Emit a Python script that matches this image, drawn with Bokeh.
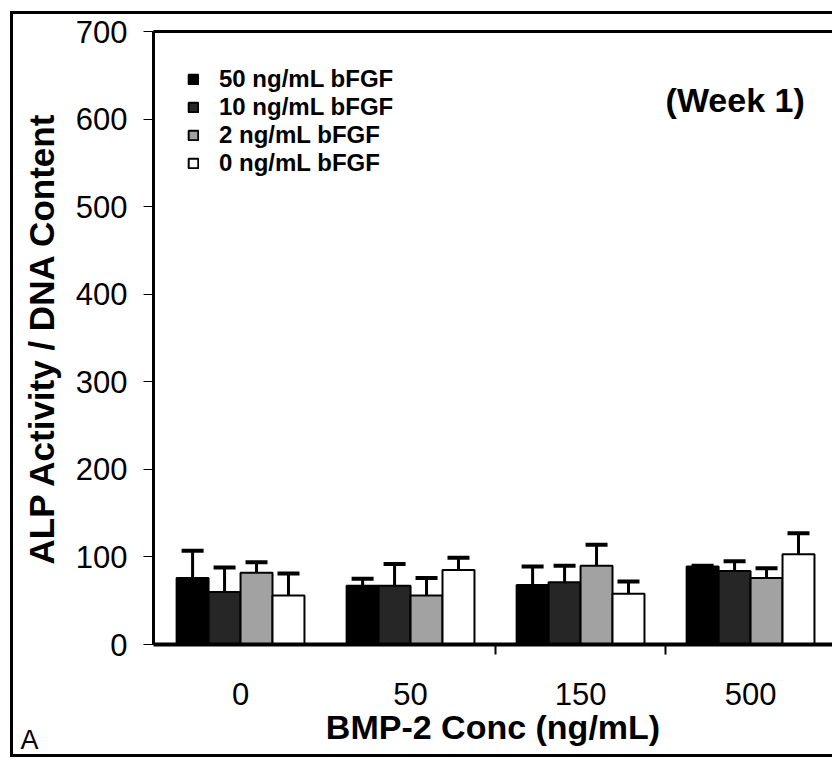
from bokeh.plotting import figure
from bokeh.models import (ColumnDataSource, Range1d, FixedTicker, Whisker, TeeHead,
                          Legend, LegendItem, Label, LinearAxis, Title, InlineStyleSheet)
from bokeh.embed import file_html
from bokeh.resources import INLINE

# ---- data ----
bmp2_conc = ["0", "50", "150", "500"]
series_names = ["50 ng/mL bFGF", "10 ng/mL bFGF", "2 ng/mL bFGF", "0 ng/mL bFGF"]
alp_bfgf50 = [76, 67, 68, 89]
err_bfgf50 = [31, 8, 21, 1]
alp_bfgf10 = [60, 67, 71, 84]
err_bfgf10 = [28, 25, 19, 11]
alp_bfgf2 = [82, 56, 90, 76]
err_bfgf2 = [12, 20, 24, 11]
alp_bfgf0 = [56, 85, 58, 103]
err_bfgf0 = [25, 14, 14, 24]
y_ticks = [0, 100, 200, 300, 400, 500, 600, 700]

values = [alp_bfgf50, alp_bfgf10, alp_bfgf2, alp_bfgf0]
errors = [err_bfgf50, err_bfgf10, err_bfgf2, err_bfgf0]
colors = ["#000000", "#262626", "#a2a2a2", "#ffffff"]
offsets = [-0.282, -0.094, 0.094, 0.282]
bar_w = 0.188
FONT = "Liberation Sans"

p = figure(width=832, height=760, output_backend="svg", toolbar_location=None,
           x_range=Range1d(-0.512, 3.482), y_range=Range1d(0, 700),
           min_border_left=153, min_border_right=0, min_border_top=31, min_border_bottom=116)
p.xgrid.visible = False
p.ygrid.visible = False
p.outline_line_color = None
p.background_fill_color = "white"
p.border_fill_alpha = 0

# outer panel frame (left, top, bottom edges) drawn on the page behind the canvas
p.stylesheets = [InlineStyleSheet(css="""
:host {
  background:
    linear-gradient(#000,#000) 10px 11px / 3px 746px no-repeat,
    linear-gradient(#000,#000) 10px 11px / 822px 3px no-repeat,
    linear-gradient(#000,#000) 10px 754px / 822px 3px no-repeat,
    #ffffff;
}
""")]

items = []
for k in range(4):
    xs = [i + offsets[k] for i in range(len(bmp2_conc))]
    src = ColumnDataSource(dict(x=xs, top=values[k],
                                upper=[v + e for v, e in zip(values[k], errors[k])]))
    r = p.vbar(x="x", top="top", width=bar_w, source=src, fill_color=colors[k],
               line_color="black", line_width=2)
    w = Whisker(base="x", upper="upper", lower="top", source=src,
                upper_head=TeeHead(size=22, line_width=4, line_color="black"),
                lower_head=None, line_width=3, line_color="black", level="overlay")
    p.add_layout(w)
    items.append(LegendItem(label=series_names[k], renderers=[r]))

# x axis
xa = p.xaxis[0]
xa.ticker = FixedTicker(ticks=[0, 1, 2, 3], minor_ticks=[1.5, 2.5])
xa.major_label_overrides = {i: c for i, c in enumerate(bmp2_conc)}
xa.major_tick_out = 0
xa.major_tick_in = 0
xa.minor_tick_out = 10
xa.minor_tick_in = 0
xa.minor_tick_line_width = 2
xa.minor_tick_line_color = "black"
xa.axis_line_width = 4
xa.axis_line_color = "black"
xa.major_label_standoff = 28
xa.major_label_text_font = FONT
xa.major_label_text_font_size = "31px"
xa.major_label_text_color = "black"
xa.axis_label = "BMP-2 Conc (ng/mL)"
xa.axis_label_text_font = FONT
xa.axis_label_text_font_size = "34px"
xa.axis_label_text_font_style = "bold"
xa.axis_label_text_color = "black"
xa.axis_label_standoff = 0

# y axis
ya = p.yaxis[0]
ya.ticker = FixedTicker(ticks=y_ticks)
ya.major_tick_out = 10
ya.major_tick_in = 0
ya.major_tick_line_color = "black"
ya.minor_tick_line_color = None
ya.axis_line_width = 3
ya.axis_line_color = "black"
ya.major_label_standoff = 16
ya.major_label_text_font = FONT
ya.major_label_text_font_size = "31px"
ya.major_label_text_color = "black"
ya.axis_label = "ALP Activity / DNA Content"
ya.axis_label_text_font = FONT
ya.axis_label_text_font_size = "35px"
ya.axis_label_text_font_style = "bold"
ya.axis_label_text_color = "black"
ya.axis_label_standoff = 12

# top frame line
top_axis = LinearAxis(ticker=FixedTicker(ticks=[]), major_label_text_font_size="0px",
                      major_tick_line_color=None, minor_tick_line_color=None,
                      axis_line_width=3, axis_line_color="black")
p.add_layout(top_axis, "above")

legend = Legend(items=items, location="top_left", margin=34, padding=2,
                border_line_color=None, background_fill_alpha=0,
                glyph_width=12, glyph_height=12, label_standoff=20, spacing=0,
                label_text_font=FONT, label_text_font_style="bold",
                label_text_color="black",
                label_text_font_size="24px", label_text_line_height=0.9)
p.add_layout(legend)

p.add_layout(Label(x=2.5, y=622, text="(Week 1)", text_font=FONT,
                   text_font_size="34px", text_font_style="bold", text_color="black",
                   text_baseline="alphabetic", text_align="left"))

# panel letter in the lower-left corner
p.add_layout(Title(text="A", align="left", offset=-133, standoff=-48,
                   vertical_align="top", text_font=FONT, text_font_size="27px",
                   text_font_style="normal", text_color="black"), "below")

open("out.html", "w").write(file_html(p, INLINE))
